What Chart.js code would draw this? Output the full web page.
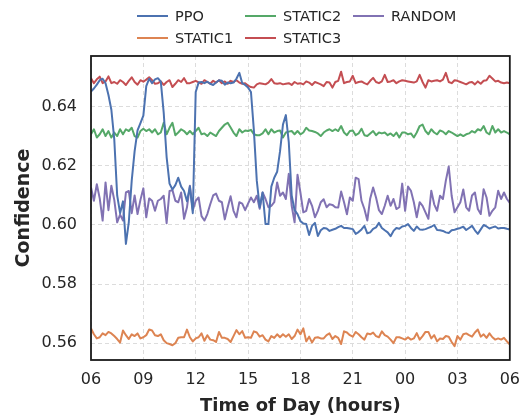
<!DOCTYPE html>
<html>
<head>
<meta charset="utf-8">
<script src="https://cdn.jsdelivr.net/npm/chart.js@4.4.1/dist/chart.umd.min.js"></script>
<style>
  html, body { margin: 0; padding: 0; background: #fff; }
  #wrap { width: 530px; height: 417px; }
</style>
</head>
<body>
<div id="wrap"><canvas id="myChart" width="530" height="417"></canvas></div>
<script>
// 10-minute samples from 06:00 to 06:00 next day (145 points)
const xTickLabels = ["06", "09", "12", "15", "18", "21", "00", "03", "06"];
const yTicks = [0.56, 0.58, 0.6, 0.62, 0.64];

const ppo = [
  0.6452, 0.6462, 0.6475, 0.6490, 0.6495, 0.6480, 0.6440, 0.6390, 0.6290, 0.6100, 0.6040, 0.6080,
  0.5936, 0.6010, 0.6150, 0.6250, 0.6320, 0.6345, 0.6370, 0.6470, 0.6495, 0.6480, 0.6493, 0.6497,
  0.6485, 0.6380, 0.6230, 0.6140, 0.6120, 0.6135, 0.6160, 0.6130, 0.6115, 0.6080, 0.6130, 0.6040,
  0.6450, 0.6482, 0.6484, 0.6480, 0.6485, 0.6478, 0.6474, 0.6482, 0.6490, 0.6488, 0.6475, 0.6482,
  0.6480, 0.6482, 0.6495, 0.6515, 0.6480, 0.6474, 0.6465, 0.6450, 0.6320, 0.6150, 0.6060, 0.6110,
  0.6003, 0.6003, 0.6130, 0.6160, 0.6180, 0.6250, 0.6340, 0.6372, 0.6280, 0.6100, 0.6050, 0.6037,
  0.6013, 0.6005, 0.6003, 0.5966, 0.5997, 0.6007, 0.5963, 0.5982, 0.5990, 0.5988, 0.5980, 0.5984,
  0.5987, 0.5993, 0.5997, 0.5990, 0.5990, 0.5988, 0.5986, 0.5970, 0.5976, 0.5985, 0.5997, 0.5972,
  0.5975, 0.5987, 0.5992, 0.6007, 0.5990, 0.5982, 0.5975, 0.5962, 0.5980, 0.5990, 0.5987, 0.5995,
  0.5997, 0.6003, 0.5990, 0.5980, 0.5995, 0.5985, 0.5984, 0.5986, 0.5990, 0.5994, 0.6000, 0.5983,
  0.5982, 0.5980, 0.5975, 0.5973, 0.5982, 0.5984, 0.5987, 0.5990, 0.5994, 0.5983, 0.5990, 0.5997,
  0.5982, 0.5970, 0.5985, 0.6000, 0.5995, 0.5988, 0.5992, 0.5995, 0.5988, 0.5990, 0.5990, 0.5987,
  0.5985
];

const static1 = [
  0.5650, 0.5630, 0.5616, 0.5620, 0.5633, 0.5627, 0.5638, 0.5633, 0.5624, 0.5614, 0.5602, 0.5643,
  0.5627, 0.5614, 0.5630, 0.5624, 0.5633, 0.5616, 0.5620, 0.5627, 0.5646, 0.5643, 0.5627, 0.5624,
  0.5630, 0.5610, 0.5600, 0.5597, 0.5593, 0.5600, 0.5618, 0.5620, 0.5620, 0.5646, 0.5620, 0.5606,
  0.5616, 0.5620, 0.5633, 0.5608, 0.5627, 0.5612, 0.5610, 0.5604, 0.5638, 0.5618, 0.5618, 0.5614,
  0.5604, 0.5624, 0.5644, 0.5630, 0.5641, 0.5618, 0.5620, 0.5618, 0.5640, 0.5636, 0.5622, 0.5627,
  0.5612, 0.5606, 0.5624, 0.5618, 0.5630, 0.5620, 0.5630, 0.5622, 0.5630, 0.5614, 0.5624, 0.5646,
  0.5630, 0.5650, 0.5606, 0.5622, 0.5602, 0.5618, 0.5620, 0.5616, 0.5616, 0.5627, 0.5633, 0.5614,
  0.5624, 0.5618, 0.5597, 0.5640, 0.5636, 0.5627, 0.5622, 0.5638, 0.5630, 0.5620, 0.5612, 0.5633,
  0.5630, 0.5636, 0.5624, 0.5620, 0.5640, 0.5627, 0.5622, 0.5612, 0.5600, 0.5620, 0.5620, 0.5616,
  0.5612, 0.5620, 0.5612, 0.5616, 0.5634, 0.5612, 0.5624, 0.5638, 0.5638, 0.5616, 0.5627, 0.5606,
  0.5616, 0.5614, 0.5624, 0.5622, 0.5604, 0.5590, 0.5624, 0.5612, 0.5630, 0.5633, 0.5627, 0.5622,
  0.5636, 0.5646, 0.5622, 0.5630, 0.5618, 0.5633, 0.5620, 0.5612, 0.5616, 0.5612, 0.5618, 0.5606,
  0.5595
];

const static2 = [
  0.6307, 0.6324, 0.6296, 0.6307, 0.6324, 0.6301, 0.6318, 0.6296, 0.6313, 0.6301, 0.6324, 0.6307,
  0.6324, 0.6318, 0.6329, 0.6301, 0.6296, 0.6318, 0.6326, 0.6318, 0.6324, 0.6313, 0.6324, 0.6307,
  0.6313, 0.6346, 0.6307, 0.6329, 0.6346, 0.6304, 0.6313, 0.6324, 0.6318, 0.6307, 0.6318, 0.6307,
  0.6318, 0.6329, 0.6307, 0.6310, 0.6301, 0.6313, 0.6307, 0.6301, 0.6318, 0.6329, 0.6340, 0.6346,
  0.6330, 0.6313, 0.6301, 0.6324, 0.6313, 0.6320, 0.6318, 0.6322, 0.6307, 0.6304, 0.6304, 0.6310,
  0.6324, 0.6307, 0.6324, 0.6313, 0.6318, 0.6320, 0.6296, 0.6313, 0.6316, 0.6318, 0.6307, 0.6318,
  0.6307, 0.6313, 0.6329, 0.6320, 0.6318, 0.6315, 0.6310, 0.6301, 0.6313, 0.6320, 0.6324, 0.6318,
  0.6324, 0.6318, 0.6335, 0.6313, 0.6304, 0.6318, 0.6320, 0.6304, 0.6310, 0.6326, 0.6304, 0.6301,
  0.6310, 0.6318, 0.6304, 0.6313, 0.6310, 0.6313, 0.6304, 0.6310, 0.6301, 0.6313, 0.6296, 0.6313,
  0.6313, 0.6307, 0.6310, 0.6296, 0.6313, 0.6335, 0.6340, 0.6318, 0.6307, 0.6324, 0.6313, 0.6307,
  0.6320, 0.6316, 0.6307, 0.6318, 0.6313, 0.6307, 0.6301, 0.6307, 0.6301, 0.6307, 0.6310, 0.6318,
  0.6313, 0.6324, 0.6320, 0.6335, 0.6313, 0.6307, 0.6335, 0.6313, 0.6324, 0.6313, 0.6318, 0.6313,
  0.6307
];

const static3 = [
  0.6497, 0.6480, 0.6493, 0.6502, 0.6480, 0.6486, 0.6503, 0.6480, 0.6484, 0.6478, 0.6490, 0.6484,
  0.6474, 0.6488, 0.6500, 0.6484, 0.6475, 0.6490, 0.6485, 0.6492, 0.6500, 0.6490, 0.6478, 0.6480,
  0.6486, 0.6474, 0.6484, 0.6490, 0.6467, 0.6478, 0.6490, 0.6484, 0.6497, 0.6480, 0.6480, 0.6484,
  0.6488, 0.6483, 0.6478, 0.6490, 0.6484, 0.6478, 0.6488, 0.6482, 0.6490, 0.6480, 0.6486, 0.6478,
  0.6488, 0.6484, 0.6490, 0.6482, 0.6478, 0.6480, 0.6472, 0.6467, 0.6465, 0.6476, 0.6480, 0.6478,
  0.6476, 0.6482, 0.6494, 0.6480, 0.6478, 0.6480, 0.6476, 0.6478, 0.6480, 0.6474, 0.6484, 0.6478,
  0.6480, 0.6476, 0.6486, 0.6482, 0.6474, 0.6484, 0.6480, 0.6476, 0.6470, 0.6484, 0.6482, 0.6465,
  0.6484, 0.6488, 0.6519, 0.6480, 0.6484, 0.6486, 0.6505, 0.6480, 0.6484, 0.6486, 0.6480, 0.6476,
  0.6488, 0.6498, 0.6484, 0.6480, 0.6486, 0.6508, 0.6484, 0.6486, 0.6490, 0.6480, 0.6486, 0.6490,
  0.6488, 0.6486, 0.6484, 0.6482, 0.6486, 0.6508, 0.6484, 0.6465, 0.6490, 0.6486, 0.6488, 0.6490,
  0.6486, 0.6492, 0.6515, 0.6484, 0.6480, 0.6490, 0.6488, 0.6484, 0.6480, 0.6476, 0.6482, 0.6484,
  0.6476, 0.6486, 0.6478, 0.6488, 0.6490, 0.6505, 0.6496, 0.6486, 0.6488, 0.6482, 0.6480, 0.6482,
  0.6480
];

const random = [
  0.6127, 0.6082, 0.6138, 0.6090, 0.6015, 0.6144, 0.6050, 0.6133, 0.6085, 0.6009, 0.6035, 0.6015,
  0.6110, 0.6115, 0.6040, 0.6100, 0.6037, 0.6085, 0.6124, 0.6026, 0.6090, 0.6082, 0.6048, 0.6082,
  0.6088, 0.6099, 0.6006, 0.6115, 0.6118, 0.6082, 0.6077, 0.6110, 0.6021, 0.6060, 0.6133, 0.6050,
  0.6082, 0.6093, 0.6030, 0.6015, 0.6037, 0.6070, 0.6100, 0.6106, 0.6082, 0.6077, 0.6019, 0.6060,
  0.6097, 0.6048, 0.6026, 0.6077, 0.6072, 0.6050, 0.6072, 0.6093, 0.6077, 0.6099, 0.6055, 0.6110,
  0.6088, 0.6060, 0.6065, 0.6077, 0.6144, 0.6099, 0.6110, 0.6088, 0.6173, 0.6065, 0.6009, 0.6170,
  0.6110, 0.6043, 0.6048, 0.6088, 0.6065, 0.6026, 0.6048, 0.6077, 0.6087, 0.6060, 0.6070, 0.6068,
  0.6060, 0.6059, 0.6113, 0.6077, 0.6036, 0.6093, 0.6082, 0.6160, 0.6155, 0.6082, 0.6054, 0.6015,
  0.6090, 0.6127, 0.6093, 0.6050, 0.6037, 0.6065, 0.6099, 0.6065, 0.6088, 0.6054, 0.6060, 0.6140,
  0.6048, 0.6130, 0.6116, 0.6077, 0.6026, 0.6077, 0.6065, 0.6043, 0.6021, 0.6116, 0.6070, 0.6048,
  0.6099, 0.6088, 0.6150, 0.6198, 0.6099, 0.6043, 0.6060, 0.6077, 0.6120, 0.6060, 0.6048, 0.6100,
  0.6110, 0.6054, 0.6037, 0.6121, 0.6093, 0.6031, 0.6048, 0.6060, 0.6116, 0.6088, 0.6110, 0.6088,
  0.6075
];

// hours since 06:00, one sample every 10 minutes
const hours = ppo.map((_, i) => i / 6);

const seriesNames = ["PPO", "STATIC1", "STATIC2", "STATIC3", "RANDOM"];
const seriesData = [ppo, static1, static2, static3, random];
const seriesColors = ["#4c72b0", "#dd8452", "#55a868", "#c44e52", "#8172b3"];

const FONT = "'DejaVu Sans', sans-serif";
const TEXT = "#262626";

// matplotlib-style legend: 3 columns, filled column by column
const legendPlugin = {
  id: "gridLegend",
  afterDraw(chart) {
    const ctx = chart.ctx;
    const colX = [137, 245, 353];
    const rowY = [16, 38];
    ctx.save();
    ctx.font = "14.5px " + FONT;
    ctx.textBaseline = "middle";
    ctx.textAlign = "left";
    seriesNames.forEach((name, i) => {
      const col = Math.floor(i / 2);
      const row = i % 2;
      const x = colX[col], y = rowY[row];
      ctx.strokeStyle = seriesColors[i];
      ctx.lineWidth = 2;
      ctx.beginPath();
      ctx.moveTo(x, y);
      ctx.lineTo(x + 31, y);
      ctx.stroke();
      ctx.fillStyle = TEXT;
      ctx.fillText(name, x + 38, y + 1);
    });
    ctx.restore();
  },
};

const framePlugin = {
  id: "frame",
  afterDraw(chart) {
    const { left, top, right, bottom } = chart.chartArea;
    const ctx = chart.ctx;
    ctx.save();
    ctx.strokeStyle = "#1a1a1a";
    ctx.lineWidth = 1.8;
    ctx.strokeRect(left, top, right - left, bottom - top);
    ctx.restore();
  },
};

const bgPlugin = {
  id: "bg",
  beforeDraw(chart) {
    const ctx = chart.ctx;
    ctx.save();
    ctx.fillStyle = "#fff";
    ctx.fillRect(0, 0, chart.width, chart.height);
    ctx.restore();
  },
};

const ctx = document.getElementById("myChart");

new Chart(ctx, {
  type: "line",
  data: {
    datasets: seriesNames.map((name, i) => ({
      label: name,
      data: seriesData[i].map((v, j) => ({ x: hours[j], y: v })),
      borderColor: seriesColors[i],
      backgroundColor: seriesColors[i],
      borderWidth: 2,
      pointRadius: 0,
      tension: 0,
      borderJoinStyle: "round",
    })),
  },
  options: {
    responsive: false,
    animation: false,
    layout: { padding: { top: 56, right: 18, left: 0, bottom: 0 } },
    plugins: {
      legend: { display: false },
      tooltip: { enabled: false },
    },
    scales: {
      x: {
        type: "linear",
        min: 0,
        max: 24,
        afterFit: (scale) => { scale.height = 57; },
        afterBuildTicks: (scale) => {
          scale.ticks = xTickLabels.map((_, i) => ({ value: i * 3 }));
        },
        ticks: {
          padding: 10,
          color: TEXT,
          font: { family: FONT, size: 16 },
          maxRotation: 0,
          callback: (v, i) => xTickLabels[i],
        },
        grid: { color: "#dcdcdc", lineWidth: 1, drawTicks: false },
        border: { display: false, dash: [4, 3] },
        title: {
          display: true,
          text: "Time of Day (hours)",
          color: TEXT,
          font: { family: FONT, size: 18, weight: "bold" },
          padding: { top: 2, bottom: 0 },
        },
      },
      y: {
        min: 0.5543,
        max: 0.6572,
        afterFit: (scale) => { scale.width = 91; },
        afterBuildTicks: (scale) => {
          scale.ticks = yTicks.map((v) => ({ value: v }));
        },
        ticks: {
          padding: 14,
          color: TEXT,
          font: { family: FONT, size: 16 },
          callback: (v) => v.toFixed(2),
        },
        grid: { color: "#dcdcdc", lineWidth: 1, drawTicks: false },
        border: { display: false, dash: [4, 3] },
        title: {
          display: true,
          text: "Confidence",
          color: TEXT,
          font: { family: FONT, size: 19, weight: "bold" },
          padding: { top: 13, bottom: 0 },
        },
      },
    },
  },
  plugins: [bgPlugin, legendPlugin, framePlugin],
});
</script>
</body>
</html>
